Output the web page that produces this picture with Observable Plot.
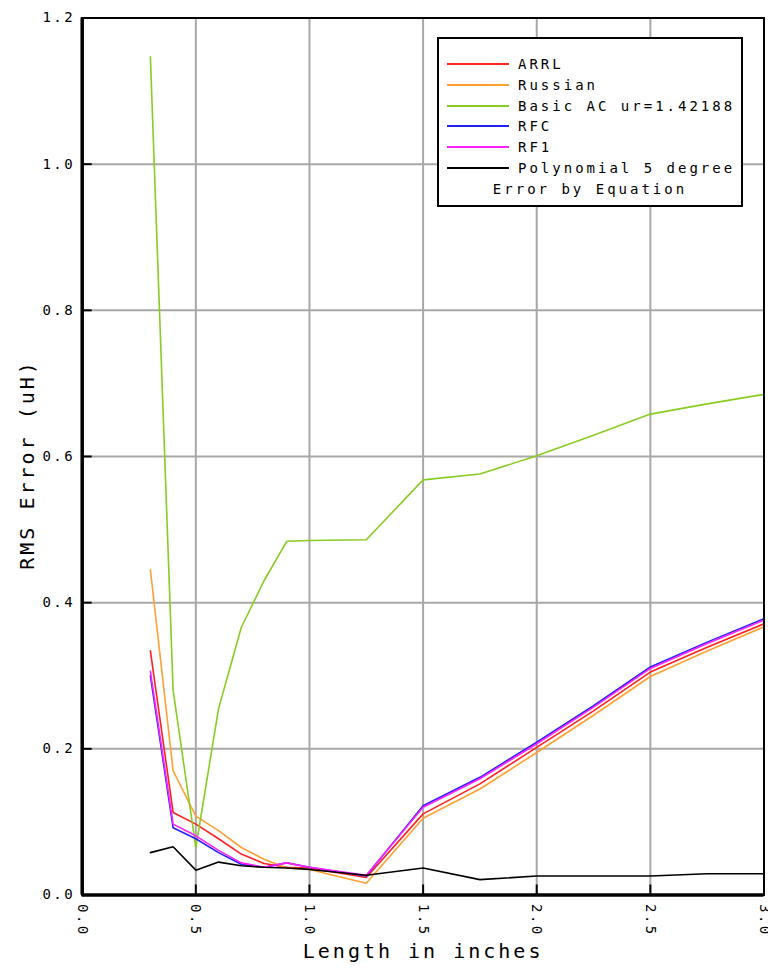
<!DOCTYPE html>
<html>
<head>
<meta charset="utf-8">
<script src="https://cdn.jsdelivr.net/npm/d3@7"></script>
<script src="https://cdn.jsdelivr.net/npm/@observablehq/plot@0.6"></script>
<style>
  body { margin: 0; background: #fff; }
  #wrap { position: relative; width: 768px; height: 969px; overflow: hidden; }
  #chart svg text { font-family: "DejaVu Sans Mono", monospace; letter-spacing: 2.5px; fill: #000; }
  #chart svg .axlabel text { letter-spacing: 3px; }
  .legend { position: absolute; left: 437px; top: 37px; width: 302px; height: 166px;
            border: 2px solid #000; background: #fff;
            font-family: "DejaVu Sans Mono", monospace; font-size: 14px; letter-spacing: 3px; color: #000; }
  .legend .row { position: absolute; left: 0; height: 20px; line-height: 20px; white-space: nowrap; }
  .legend .sw { position: absolute; left: 8px; top: 9px; width: 62px; height: 0; border-top: 2px solid; }
  .legend .lbl { position: absolute; left: 79px; top: 0; }
  .legend .title { position: absolute; left: 0; width: 302px; text-align: center; top: 140px; line-height: 20px; }
</style>
</head>
<body>
<div id="wrap">
  <div id="chart"></div>
  <div class="legend" id="legend"></div>
</div>
<script>
// ---- data ----
const lengths = [0.3, 0.4, 0.5, 0.6, 0.7, 0.8, 0.9, 1.0, 1.25, 1.5, 1.75, 2.0, 2.25, 2.5, 2.75, 3.0];
const arrl    = [0.334, 0.113, 0.097, 0.077, 0.056, 0.043, 0.038, 0.037, 0.024, 0.111, 0.152, 0.202, 0.252, 0.305, 0.339, 0.371];
const russian = [0.445, 0.170, 0.108, 0.088, 0.065, 0.049, 0.037, 0.035, 0.016, 0.105, 0.145, 0.195, 0.246, 0.299, 0.334, 0.367];
const basicAC = [1.147, 0.280, 0.065, 0.255, 0.366, 0.430, 0.484, 0.485, 0.486, 0.568, 0.576, 0.601, 0.629, 0.658, 0.672, 0.685];
const rfc     = [0.300, 0.092, 0.077, 0.058, 0.042, 0.038, 0.044, 0.038, 0.026, 0.122, 0.161, 0.209, 0.259, 0.312, 0.346, 0.378];
const rf1     = [0.306, 0.097, 0.081, 0.061, 0.044, 0.038, 0.044, 0.038, 0.027, 0.120, 0.159, 0.207, 0.257, 0.310, 0.344, 0.376];
const poly5   = [0.058, 0.066, 0.034, 0.045, 0.040, 0.038, 0.037, 0.035, 0.027, 0.037, 0.021, 0.026, 0.026, 0.026, 0.029, 0.029];

const seriesNames  = ["ARRL", "Russian", "Basic AC ur=1.42188", "RFC", "RF1", "Polynomial 5 degree"];
const seriesValues = [arrl, russian, basicAC, rfc, rf1, poly5];
const seriesColors = ["#ff2020", "#ffa030", "#88cc22", "#2020ff", "#ff20ff", "#000000"];
const legendTitle = "Error by Equation";

const xTicks = [0.0, 0.5, 1.0, 1.5, 2.0, 2.5, 3.0];
const yTicks = [0.0, 0.2, 0.4, 0.6, 0.8, 1.0, 1.2];
const xLabel = "Length in inches";
const yLabel = "RMS Error (uH)";

// ---- build table ----
const rows = [];
seriesNames.forEach((name, i) => {
  lengths.forEach((len, j) => rows.push({series: name, length: len, error: seriesValues[i][j]}));
});

const W = 768, H = 969;
const mL = 81.7, mR = 4.5, mT = 17.5, mB = 74.5;
const plotW = W - mL - mR, plotH = H - mT - mB;
const fmt = d3.format(".1f");

const chart = Plot.plot({
  width: W, height: H,
  marginLeft: mL, marginRight: mR, marginTop: mT, marginBottom: mB,
  x: {domain: [0, 3]},
  y: {domain: [0, 1.2]},
  color: {domain: seriesNames, range: seriesColors},
  style: {background: "#fff", fontFamily: "DejaVu Sans Mono, monospace"},
  marks: [
    Plot.ruleX(xTicks.slice(1, -1), {x: d => d, stroke: "#a8a8a8", strokeWidth: 2, strokeOpacity: 1}),
    Plot.ruleY(yTicks.slice(1, -1), {y: d => d, stroke: "#a8a8a8", strokeWidth: 2, strokeOpacity: 1}),
    Plot.line(rows, {x: "length", y: "error", z: "series", stroke: "series", strokeWidth: 1.6, strokeLinejoin: "miter"}),
    Plot.frame({stroke: "#000", strokeWidth: 2}),
    Plot.ruleX([0], {x: d => d, stroke: "#000", strokeWidth: 3.5}),
    Plot.ruleY([0], {y: d => d, stroke: "#000", strokeWidth: 3.5}),
    Plot.tickX(xTicks, {x: d => d, insetTop: plotH - 10, stroke: "#000", strokeWidth: 2}),
    Plot.tickY(yTicks, {y: d => d, insetRight: plotW - 10, stroke: "#000", strokeWidth: 2}),
    Plot.axisX(xTicks, {tickRotate: 90, tickSize: 0, tickPadding: 9, tickFormat: fmt, fontSize: 14, label: null}),
    Plot.axisY(yTicks, {tickSize: 0, tickPadding: 7, tickFormat: fmt, fontSize: 14, label: null}),
    Plot.text([xLabel], {text: d => d, frameAnchor: "bottom", dy: 63, fontSize: 20, className: "axlabel"}),
    Plot.text([yLabel], {text: d => d, frameAnchor: "left", textAnchor: "middle", dx: -55, dy: 8, rotate: -90, fontSize: 20, className: "axlabel"})
  ]
});
document.getElementById("chart").appendChild(chart);

// ---- legend ----
const legend = document.getElementById("legend");
seriesNames.forEach((name, i) => {
  const row = document.createElement("div");
  row.className = "row";
  row.style.top = (15 + i * 20.8) + "px";
  row.style.width = "302px";
  const sw = document.createElement("div");
  sw.className = "sw";
  sw.style.borderTopColor = seriesColors[i];
  const lbl = document.createElement("div");
  lbl.className = "lbl";
  lbl.textContent = name;
  row.appendChild(sw); row.appendChild(lbl);
  legend.appendChild(row);
});
const t = document.createElement("div");
t.className = "title";
t.textContent = legendTitle;
legend.appendChild(t);
</script>
</body>
</html>
